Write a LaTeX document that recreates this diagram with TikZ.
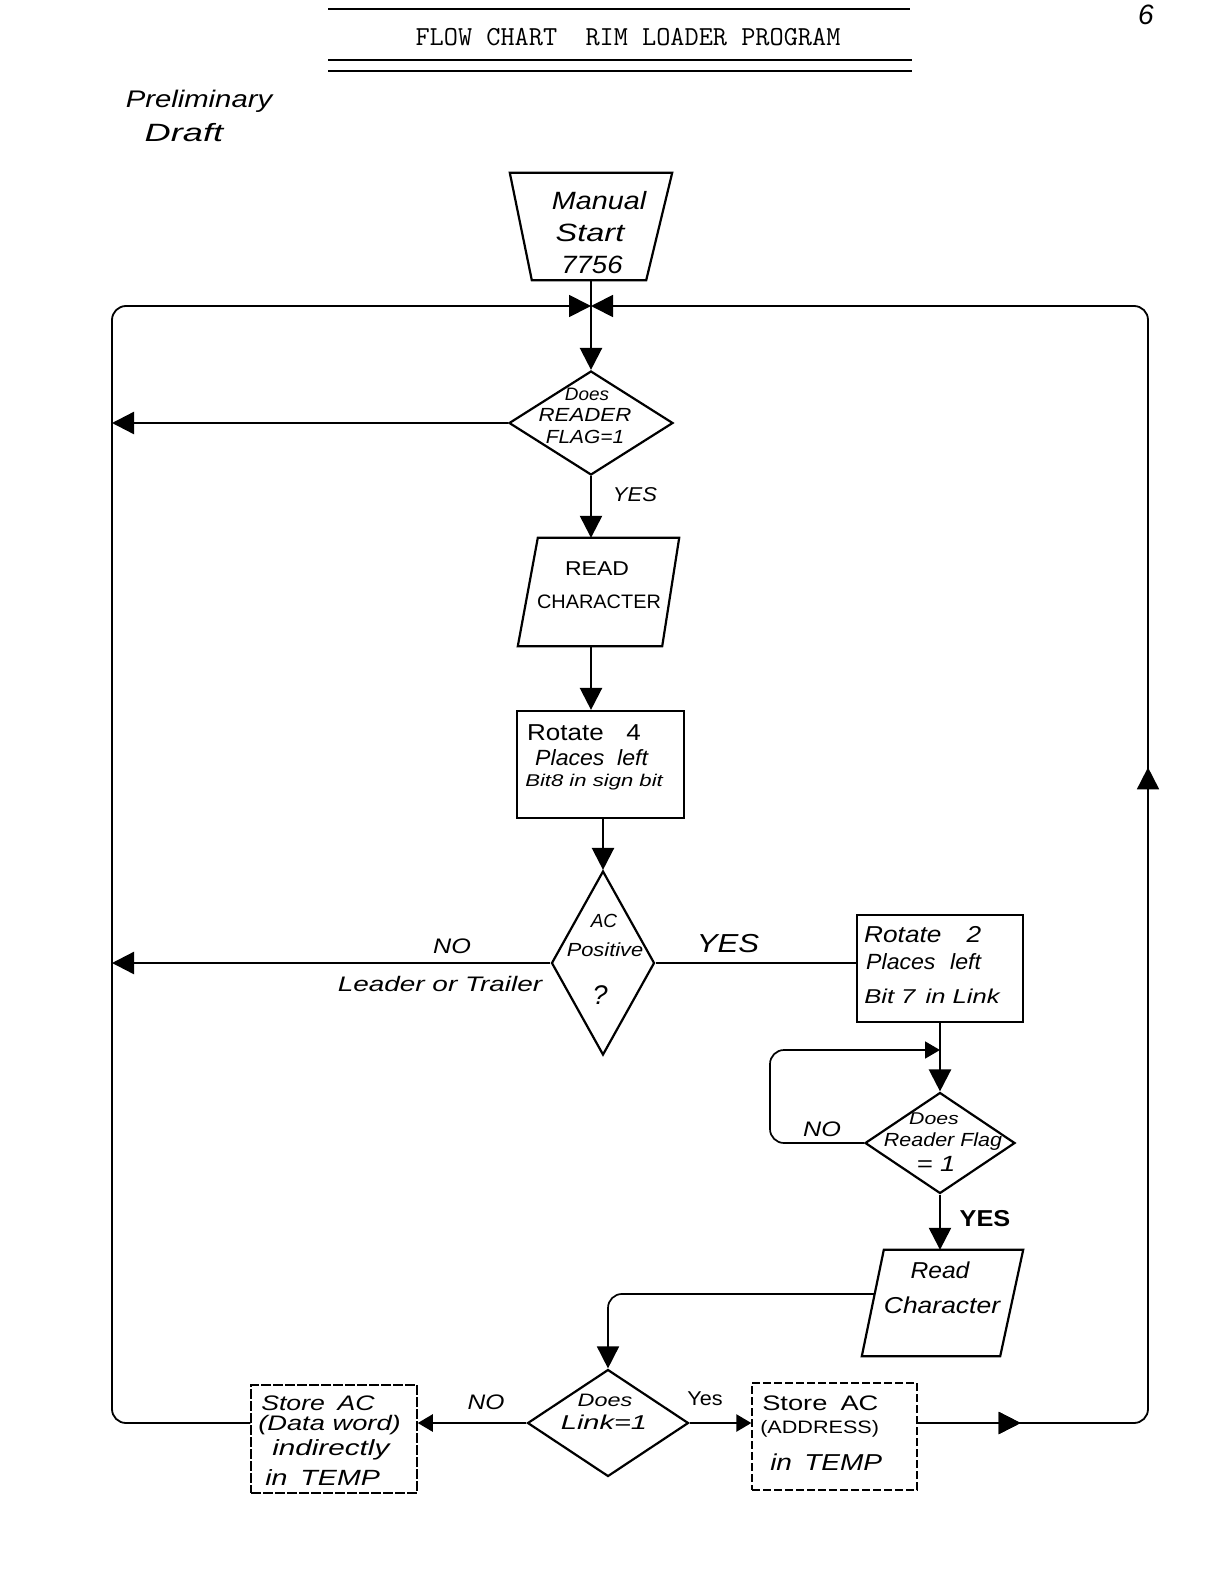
\documentclass[tikz,border=0pt]{standalone}
\usepackage{fontspec}
\setmainfont{Liberation Sans}
\usetikzlibrary{shapes.geometric,arrows.meta,decorations.markings,calc}
\tikzset{
  hand/.style 2 args={font=\itshape\fontsize{#1}{#1}\selectfont, xscale=#2, inner sep=0pt},
  upr/.style 2 args={font=\fontsize{#1}{#1}\selectfont, xscale=#2, inner sep=0pt},
  shp/.style={draw, line width=2.2pt, inner sep=0pt},
  boxnode/.style={rectangle, inner sep=0pt},
  conn/.style={line width=2.4pt},
  thinconn/.style={line width=1.7pt},
  loopl/.style={line width=1.8pt, rounded corners=14pt},
  tip/.style={-{Triangle[length=22pt,width=22pt]}},
  smalltip/.style={-{Triangle[length=15pt,width=17pt]}},
  midarr/.style={postaction={decorate},decoration={markings,
     mark=at position #1 with {\arrow{Triangle[length=22pt,width=22pt]}}}},
}
\begin{document}
\begin{tikzpicture}[x=1pt,y=-1pt]
\useasboundingbox (0,0) rectangle (1224,1584);

% header
\draw[line width=2pt] (328,9) -- (910,9);
\node[font=\ttfamily\fontsize{27.5}{27.5}\selectfont, inner sep=0pt] (title) at (628,37) {FLOW CHART\ \ RIM LOADER PROGRAM};
\draw[line width=2pt] (328,60) -- (912,60);
\draw[line width=2pt] (328,71) -- (912,71);
\node[hand={28}{1}] (page) at (1146,15) {6};
\node[hand={24}{1.22}] (prelim) at (199,101) {Preliminary};
\node[hand={25}{1.45}] (draft) at (184,133) {Draft};

% manual start trapezoid
\node[boxnode, minimum width=162pt, minimum height=107pt] (start) at (591,226.5) {};
\draw[shp] (start.north west) -- (start.north east) -- ([xshift=-26pt]start.south east)
   -- ([xshift=22pt]start.south west) -- cycle;
\node[hand={25}{1.15}] (st1) at (599,201) {Manual};
\node[hand={25}{1.3}] (st2) at (590,233) {Start};
\node[hand={25}{1.1}] (st3) at (592,265) {7756};

\coordinate (J) at (591,306);

% decision 1
\node[shp, diamond, minimum width=164pt, minimum height=104pt] (d1) at (591,423) {};
\node[hand={18}{1.05}] (d1a) at (587,394) {Does};
\node[hand={19}{1.17}] (d1b) at (585,415) {READER};
\node[hand={19}{1.1}] (d1c) at (585,437) {FLAG=1};
\node[hand={20}{1.1}] (yes1) at (635,495) {YES};

% read character 1
\node[boxnode, minimum width=161pt, minimum height=108pt] (p1) at (598.5,592) {};
\draw[shp] ([xshift=20pt]p1.north west) -- (p1.north east) -- ([xshift=-17pt]p1.south east)
   -- (p1.south west) -- cycle;
\node[upr={20}{1.15}] (p1a) at (597,569) {READ};
\node[upr={19.5}{1.02}] (p1b) at (599,602) {CHARACTER};

% rotate 4
\node[shp, boxnode, minimum width=167pt, minimum height=107pt] (r4) at (600.5,764.5) {};
\node[upr={23}{1.13}, anchor=west] (r4a) at (527,733) {Rotate\hspace{20pt}4};
\node[hand={22}{1.05}, anchor=west] (r4b) at (535,758) {Places\hspace{12pt}left};
\node[hand={17}{1.3}, anchor=west] (r4c) at (525,782) {Bit8 in sign bit};

% AC positive
\node[shp, diamond, minimum width=103pt, minimum height=184pt] (d2) at (603,963) {};
\node[hand={19}{1}] (d2a) at (604,921) {AC};
\node[hand={19}{1.15}] (d2b) at (605,950) {Positive};
\node[hand={27}{1}] (d2c) at (600,995) {?};
\node[hand={21}{1.2}] (no2) at (452,946) {NO};
\node[hand={21}{1.33}] (lead) at (440,984) {Leader or Trailer};
\node[hand={26}{1.2}] (yes2) at (728,944) {YES};

% rotate 2
\node[draw, line width=1.8pt, boxnode, minimum width=166pt, minimum height=107pt] (r2) at (940,968.5) {};
\node[hand={23}{1.14}, anchor=west] (r2a) at (864,935) {Rotate\hspace{22pt}2};
\node[hand={22}{1.05}, anchor=west] (r2b) at (866,962) {Places\hspace{14pt}left};
\node[hand={20}{1.28}, anchor=west] (r2c) at (864,996) {Bit 7\hspace{8pt}in Link};

% decision 3
\node[shp, diamond, minimum width=150pt, minimum height=101pt] (d3) at (940,1143) {};
\node[hand={17}{1.25}] (d3a) at (934,1119) {Does};
\node[hand={19}{1.13}] (d3b) at (943,1142) {Reader Flag};
\node[hand={22}{1.25}] (d3c) at (936,1164) {= 1};
\node[hand={21}{1.2}] (no3) at (822,1129) {NO};
\node[font=\bfseries\fontsize{23}{23}\selectfont, xscale=1.1, inner sep=0pt] (yes3) at (985,1219) {YES};
\coordinate (lpc) at (770,1050);
\coordinate (lp) at (940,1050);

% read character 2
\node[boxnode, minimum width=161pt, minimum height=106pt] (p2) at (942.5,1303) {};
\draw[shp] ([xshift=22pt]p2.north west) -- (p2.north east) -- ([xshift=-23pt]p2.south east)
   -- (p2.south west) -- cycle;
\node[hand={23}{1.07}] (p2a) at (940,1270) {Read};
\node[hand={23}{1.15}] (p2b) at (942,1305) {Character};
\coordinate (p2l) at ($(p2.south west)!0.585!([xshift=22pt]p2.north west)$);

% decision 4
\node[shp, diamond, minimum width=161pt, minimum height=107pt] (d4) at (608,1423) {};
\node[hand={18}{1.3}] (d4a) at (605,1400) {Does};
\node[hand={20}{1.45}] (d4b) at (604,1422) {Link=1};
\node[hand={21}{1.17}] (no4) at (486,1402) {NO};
\node[upr={20}{1.08}] (yes4) at (705,1399) {Yes};

% store boxes
\node[draw, line width=1.5pt, dash pattern=on 10pt off 2pt, boxnode, minimum width=166pt, minimum height=108pt] (sl) at (334,1439) {};
\node[hand={21}{1.27}, anchor=west] (sla) at (261,1403) {Store\hspace{10pt}AC};
\node[hand={21}{1.3}, anchor=west] (slb) at (258,1425) {(Data word)};
\node[hand={22}{1.35}, anchor=west] (slc) at (272,1450) {indirectly};
\node[hand={22}{1.3}, anchor=west] (sld) at (265,1478) {in\hspace{10pt}TEMP};
\node[draw, line width=1.3pt, dash pattern=on 8pt off 3pt, boxnode, minimum width=165pt, minimum height=107pt] (sr) at (834.5,1436.5) {};
\node[upr={21}{1.3}, anchor=west] (sra) at (762,1403) {Store\hspace{10pt}AC};
\node[upr={18}{1.2}, anchor=west] (srb) at (760,1429) {(ADDRESS)};
\node[hand={23}{1.22}, anchor=west] (src) at (770,1462) {in\hspace{10pt}TEMP};

% outer coordinates
\coordinate (L1) at (112,423);
\coordinate (L2) at (112,963);
\coordinate (LB) at (112,1423);
\coordinate (LT) at (112,306);
\coordinate (RB) at (1148,1423);
\coordinate (RT) at (1148,306);

% connectors
\draw[conn] (start.south -| J) -- (J);
\draw[conn, tip] (J) -- (d1.north);
\draw[conn, tip] (d1.west) -- (L1);
\draw[conn, tip] (d1.south) -- (d1.south |- p1.north);
\draw[conn, tip] (d1.south |- p1.south) -- (d1.south |- r4.north);
\draw[conn, tip] (d2.north |- r4.south) -- (d2.north);
\draw[conn, tip] (d2.west) -- (L2);
\draw[conn] (d2.east) -- (d2.east -| r2.west);
\draw[conn, tip] (r2.south) -- (d3.north);
\draw[thinconn, rounded corners=14pt, smalltip] (d3.west) -| (lpc) -- (lp);
\draw[conn, tip] (d3.south) -- (d3.south |- p2.north);
\draw[thinconn, rounded corners=14pt, tip] (p2l) -| (d4.north);
\draw[conn, smalltip] (d4.west) -- (d4.west -| sl.east);
\draw[conn, smalltip] (d4.east) -- (d4.east -| sr.west);
\draw[loopl, tip] (sl.west |- d4.west) -- (LB) -- (LT) -- (J);
\draw[loopl, tip, midarr=103pt, postaction={decorate,decoration={markings,
     mark=at position 880pt with {\arrow{Triangle[length=22pt,width=22pt]}}}}]
     (sr.east |- d4.east) -- (RB) -- (RT) -- (J);
\end{tikzpicture}
\end{document}
